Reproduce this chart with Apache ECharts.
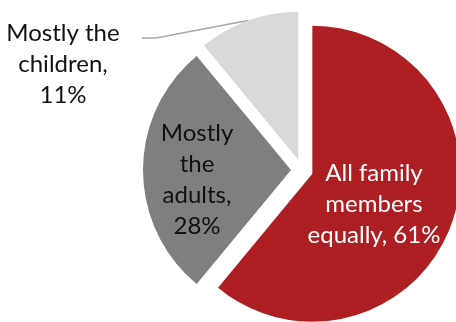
<!DOCTYPE html>
<html>
<head>
<meta charset="utf-8">
<script src="https://cdn.jsdelivr.net/npm/echarts@6/dist/echarts.min.js"></script>
<style>
  html, body { margin: 0; padding: 0; background: #fff; }
  #chart { width: 456px; height: 322px; }
</style>
</head>
<body>
<div id="chart"></div>
<script>
// Who does it: share of answers
const categories = ['All family\nmembers\nequally', 'Mostly\nthe\nadults', 'Mostly the\nchildren'];
const shares = [61, 28, 11];
const colors = ['#AE1F24', '#7F7F7F', '#D9D9D9'];
const labelColors = ['#ffffff', '#111111', '#111111'];
// value on the same line as the name, or on a line of its own
const valueSeparators = [', ', ',\n', ',\n'];
// where each label block is centred (page pixels)
const labelCenters = [[374, 204], [197, 180], [63, 64]];
// bend and end of the leader line of the outside label (page pixels)
const leaderBend = [156, 38];
const leaderEnd = [142, 38];

const FONT = 'Lato, "Open Sans", sans-serif';
const EXPLODE = 11;

// Every slice is pulled out along its bisector; labels and leader lines move with it,
// so positions handed to labelLayout are taken back by that shift.
const total = shares.reduce((a, b) => a + b, 0);
const sliceShift = (() => {
  let acc = 0;
  return shares.map(v => {
    const mid = 90 - 360 * (acc + v / 2) / total; // degrees, counter-clockwise from +x
    acc += v;
    const a = mid * Math.PI / 180;
    return [EXPLODE * Math.cos(a), -EXPLODE * Math.sin(a)];
  });
})();

const chart = echarts.init(document.getElementById('chart'), null, { renderer: 'canvas' });

const data = categories.map((name, i) => ({
  name: name,
  value: shares[i],
  selected: true,
  itemStyle: { color: colors[i] },
  select: { itemStyle: { color: colors[i], borderWidth: 0 } },
  label: {
    position: i === 2 ? 'outside' : 'inside',
    color: labelColors[i]
  }
}));

chart.setOption({
  animation: false,
  series: [{
    type: 'pie',
    center: [302, 170],
    radius: 148,
    startAngle: 90,
    clockwise: true,
    selectedMode: 'multiple',
    selectedOffset: EXPLODE,
    avoidLabelOverlap: false,
    emphasis: { disabled: true },
    itemStyle: { borderWidth: 0 },
    label: {
      show: true,
      formatter: p => p.name + valueSeparators[p.dataIndex] + p.value + '%',
      fontFamily: FONT,
      fontSize: 24,
      lineHeight: 31,
      align: 'center'
    },
    labelLine: {
      show: true,
      length: 10,
      length2: 10,
      lineStyle: { color: '#A6A6A6', width: 1.5 }
    },
    labelLayout: function (params) {
      const i = params.dataIndex;
      const r = params.labelRect;
      const c = labelCenters[i];
      const s = sliceShift[i];
      // current anchor of the text block, before realigning it to centre
      const ax = params.align === 'left' ? r.x
        : params.align === 'right' ? r.x + r.width
        : r.x + r.width / 2;
      const out = {
        align: 'center',
        dx: c[0] - s[0] - ax,
        dy: c[1] - s[1] - (r.y + r.height / 2)
      };
      if (i === 2 && params.labelLinePoints) {
        const start = params.labelLinePoints[0];
        out.labelLinePoints = [
          start,
          [leaderBend[0] - s[0], leaderBend[1] - s[1]],
          [leaderEnd[0] - s[0], leaderEnd[1] - s[1]]
        ];
      }
      return out;
    },
    data: data
  }]
});
</script>
</body>
</html>
